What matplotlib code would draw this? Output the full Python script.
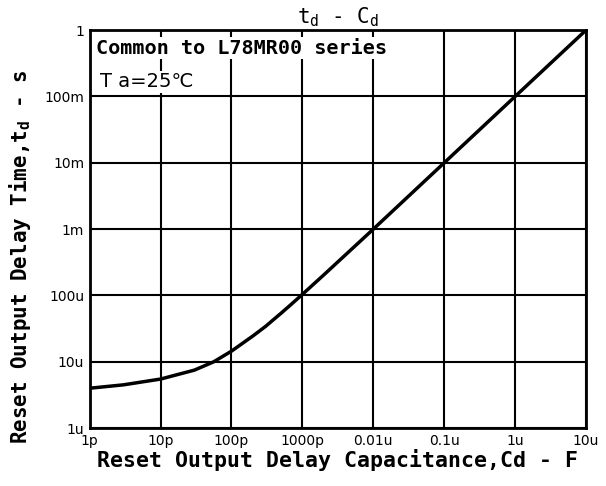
import matplotlib
matplotlib.use('Agg')
from matplotlib import pyplot as plt

# values
cap = [1e-12, 3e-12, 1e-11, 3e-11, 5.6e-11, 1e-10, 2e-10, 3e-10, 5e-10, 7e-10,
       1e-9, 2e-9, 1e-8, 1e-7, 1e-6, 1e-5]
delay = [4.0e-6, 4.5e-6, 5.5e-6, 7.5e-6, 1.0e-5, 1.45e-5, 2.45e-5, 3.4e-5, 5.4e-5, 7.4e-5,
         1.04e-4, 2.04e-4, 1e-3, 1e-2, 1e-1, 1.0]

x_ticks = [1e-12, 1e-11, 1e-10, 1e-9, 1e-8, 1e-7, 1e-6, 1e-5]
x_labels = ['1p', '10p', '100p', '1000p', '0.01u', '0.1u', '1u', '10u']
y_ticks = [1e-6, 1e-5, 1e-4, 1e-3, 1e-2, 1e-1, 1]
y_labels = ['1u', '10u', '100u', '1m', '10m', '100m', '1']

plt.rcParams['mathtext.default'] = 'regular'
mono = 'DejaVu Sans Mono'

fig = plt.figure(figsize=(6.06, 4.86), dpi=100)
ax = fig.add_axes([0.148, 0.119, 0.819, 0.819])

ax.plot(cap, delay, color='k', linewidth=2.5)
ax.set_xscale('log')
ax.set_yscale('log')
ax.set_xlim(1e-12, 1e-5)
ax.set_ylim(1e-6, 1)

ax.set_xticks(x_ticks)
ax.set_xticklabels(x_labels, fontsize=10)
ax.set_yticks(y_ticks)
ax.set_yticklabels(y_labels, fontsize=10)
ax.minorticks_off()
ax.tick_params(length=0, pad=4)
ax.grid(True, color='k', linewidth=1.5)
for s in ax.spines.values():
    s.set_linewidth(2)

ax.set_xlabel('Reset Output Delay Capacitance,Cd - F', family=mono,
              fontweight='bold', fontsize=15.5, labelpad=1)
ax.set_ylabel('Reset Output Delay Time,t$_d$ - s', family=mono,
              fontweight='bold', fontsize=15)
ax.yaxis.set_label_coords(-0.115, 0.43)

fig.text(0.558, 0.965, 't$_d$ - C$_d$', family=mono, fontsize=15,
         ha='center', va='center')
ax.text(0.012, 0.955, 'Common to L78MR00 series', transform=ax.transAxes,
        family=mono, fontweight='bold', fontsize=14.5, va='center', ha='left',
        bbox=dict(facecolor='white', edgecolor='none', pad=1))
ax.text(0.02, 0.87, 'T a=25\u2103', transform=ax.transAxes,
        fontsize=14, va='center', ha='left',
        bbox=dict(facecolor='white', edgecolor='none', pad=1))

fig.savefig('out.png', dpi=100)
